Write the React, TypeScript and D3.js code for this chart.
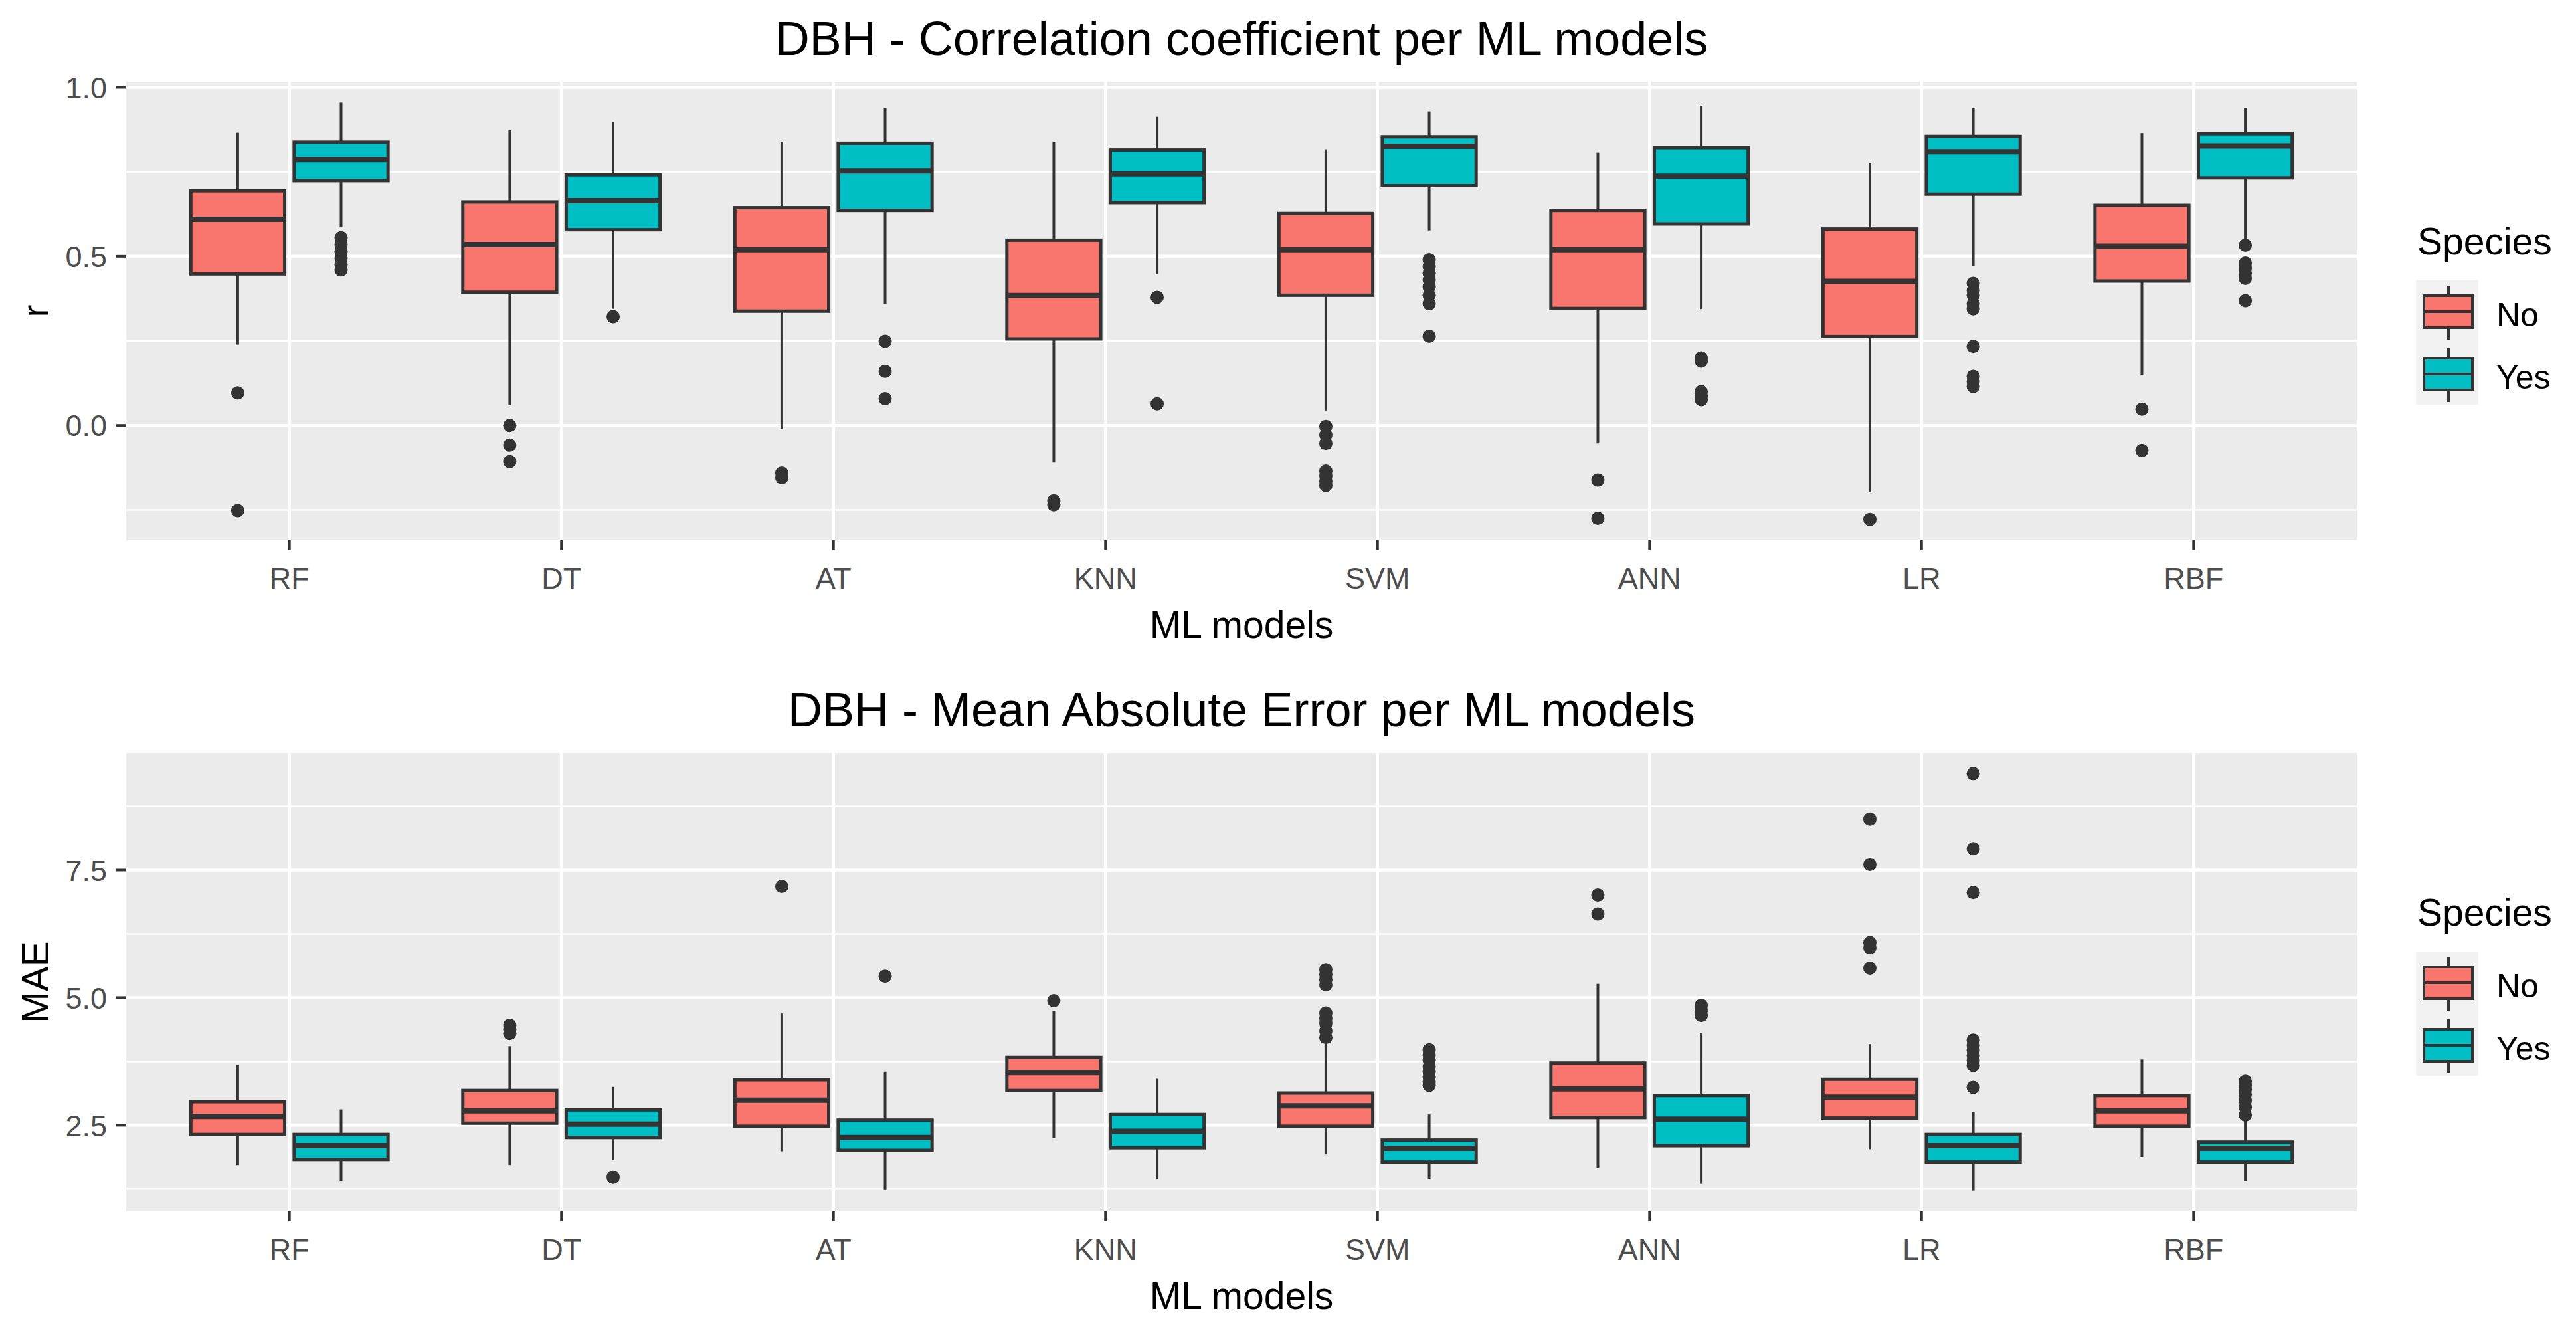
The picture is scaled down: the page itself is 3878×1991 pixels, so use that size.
import React from 'react';
import * as d3 from 'd3';

const models = ["RF", "DT", "AT", "KNN", "SVM", "ANN", "LR", "RBF"];
const species = ["No", "Yes"];
const speciesColors = ["#F8766D", "#00BFC4"];

// box stats per model: [lower whisker, Q1, median, Q3, upper whisker]
const rNoStats = [
  [0.239, 0.448, 0.610, 0.694, 0.866],
  [0.060, 0.394, 0.535, 0.661, 0.873],
  [-0.011, 0.338, 0.520, 0.644, 0.839],
  [-0.110, 0.256, 0.384, 0.548, 0.839],
  [0.044, 0.385, 0.520, 0.627, 0.817],
  [-0.053, 0.346, 0.520, 0.636, 0.807],
  [-0.198, 0.263, 0.426, 0.581, 0.776],
  [0.150, 0.427, 0.530, 0.651, 0.865],
];
const rNoOutliers = [
  [0.096, -0.252],
  [0.0, -0.058, -0.107],
  [-0.141, -0.155],
  [-0.223, -0.235],
  [-0.003, -0.028, -0.053, -0.135, -0.15, -0.165, -0.178],
  [-0.162, -0.275],
  [-0.278],
  [0.048, -0.074],
];
const rYesStats = [
  [0.586, 0.724, 0.786, 0.838, 0.955],
  [0.345, 0.579, 0.665, 0.741, 0.897],
  [0.359, 0.636, 0.753, 0.835, 0.938],
  [0.447, 0.659, 0.744, 0.815, 0.913],
  [0.577, 0.709, 0.826, 0.854, 0.929],
  [0.344, 0.596, 0.737, 0.822, 0.946],
  [0.472, 0.684, 0.810, 0.855, 0.938],
  [0.548, 0.732, 0.827, 0.863, 0.938],
];
const rYesOutliers = [
  [0.555, 0.535, 0.515, 0.495, 0.475, 0.46],
  [0.322],
  [0.249, 0.160, 0.079],
  [0.379, 0.064],
  [0.49, 0.47, 0.45, 0.43, 0.41, 0.385, 0.36, 0.264],
  [0.20, 0.19, 0.10, 0.088, 0.076],
  [0.42, 0.40, 0.385, 0.36, 0.345, 0.234, 0.145, 0.13, 0.115],
  [0.533, 0.48, 0.465, 0.45, 0.435, 0.369],
];

const maeNoStats = [
  [1.72, 2.32, 2.67, 2.96, 3.68],
  [1.72, 2.54, 2.78, 3.18, 4.05],
  [1.99, 2.48, 2.99, 3.39, 4.69],
  [2.25, 3.18, 3.53, 3.83, 4.74],
  [1.93, 2.48, 2.88, 3.13, 4.13],
  [1.66, 2.65, 3.21, 3.72, 5.27],
  [2.03, 2.64, 3.05, 3.40, 4.09],
  [1.88, 2.48, 2.78, 3.08, 3.79],
];
const maeNoOutliers = [
  [],
  [4.46, 4.38, 4.30],
  [7.18],
  [4.94],
  [5.55, 5.45, 5.35, 5.25, 4.7, 4.6, 4.5, 4.35, 4.22],
  [7.01, 6.64],
  [8.50, 7.61, 6.08, 5.98, 5.58],
  [],
];
const maeYesStats = [
  [1.40, 1.83, 2.10, 2.32, 2.81],
  [1.82, 2.26, 2.52, 2.80, 3.25],
  [1.23, 2.01, 2.26, 2.60, 3.55],
  [1.45, 2.06, 2.38, 2.71, 3.41],
  [1.45, 1.78, 2.05, 2.21, 2.71],
  [1.35, 2.10, 2.62, 3.08, 4.31],
  [1.22, 1.78, 2.10, 2.32, 2.76],
  [1.40, 1.78, 2.05, 2.17, 2.61],
];
const maeYesOutliers = [
  [],
  [1.48],
  [5.42],
  [],
  [3.98, 3.88, 3.78, 3.65, 3.55, 3.45, 3.35, 3.28],
  [4.85, 4.75, 4.65],
  [9.39, 7.92, 7.06, 4.17, 4.07, 3.97, 3.87, 3.77, 3.67, 3.24],
  [3.36, 3.28, 3.2, 3.1, 2.98, 2.85, 2.70],
];

const rTicks = [0.0, 0.5, 1.0];
const maeTicks = [2.5, 5.0, 7.5];

const W = 3878;
const H = 1991;
const FONT = "'Liberation Sans', Arial, sans-serif";
const LEFT = 190;
const RIGHT = 3548;
const DARK = "#333333";

interface PanelProps {
  top: number;
  title: string;
  yLabel: string;
  stats: number[][][];
  outliers: number[][][];
  ticks: number[];
}

const Panel: React.FC<PanelProps> = ({ top, title, yLabel, stats, outliers, ticks }) => {
  const pTop = top + 123;
  const pBot = top + 813;

  const all = [...stats.flat(2), ...outliers.flat(2)];
  const [lo, hi] = d3.extent(all) as [number, number];
  const pad = (hi - lo) * 0.05;

  const x = d3.scalePoint<string>().domain(models).range([LEFT, RIGHT]).padding(0.6);
  const y = d3.scaleLinear().domain([lo - pad, hi + pad]).range([pBot, pTop]);
  const step = x.step();
  const boxW = step * 0.345;
  const dodge = step * 0.19;

  const minor: number[] = [];
  const tStep = ticks[1] - ticks[0];
  for (let v = ticks[0] - tStep * 2.5; v < hi + pad; v += tStep) {
    if (v > lo - pad) minor.push(v);
  }

  const fmt = d3.format(".1f");
  const cx = (LEFT + RIGHT) / 2;
  const cy = (pTop + pBot) / 2;

  return (
    <g>
      <rect x={LEFT} y={pTop} width={RIGHT - LEFT} height={pBot - pTop} fill="#EBEBEB" />
      {minor.map(v => (
        <line key={"mi" + v} x1={LEFT} x2={RIGHT} y1={y(v)} y2={y(v)} stroke="#fff" strokeWidth={2.5} />
      ))}
      {ticks.map(v => (
        <line key={"ma" + v} x1={LEFT} x2={RIGHT} y1={y(v)} y2={y(v)} stroke="#fff" strokeWidth={4.5} />
      ))}
      {models.map(m => (
        <line key={"vx" + m} x1={x(m)} x2={x(m)} y1={pTop} y2={pBot} stroke="#fff" strokeWidth={4.5} />
      ))}

      {models.map((m, i) =>
        species.map((s, j) => {
          const [wl, q1, med, q3, wh] = stats[j][i];
          const c = (x(m) as number) + (j === 0 ? -dodge : dodge);
          return (
            <g key={m + s}>
              <line x1={c} x2={c} y1={y(wh)} y2={y(q3)} stroke={DARK} strokeWidth={4} />
              <line x1={c} x2={c} y1={y(q1)} y2={y(wl)} stroke={DARK} strokeWidth={4} />
              <rect x={c - boxW / 2} y={y(q3)} width={boxW} height={y(q1) - y(q3)}
                fill={speciesColors[j]} stroke={DARK} strokeWidth={5} />
              <line x1={c - boxW / 2} x2={c + boxW / 2} y1={y(med)} y2={y(med)} stroke={DARK} strokeWidth={8} />
              {outliers[j][i].map((o, k) => (
                <circle key={k} cx={c} cy={y(o)} r={10} fill={DARK} />
              ))}
            </g>
          );
        })
      )}

      {/* y axis */}
      {ticks.map(v => (
        <g key={"yt" + v}>
          <line x1={LEFT - 15} x2={LEFT} y1={y(v)} y2={y(v)} stroke={DARK} strokeWidth={4} />
          <text x={LEFT - 29} y={y(v)} dy="0.36em" textAnchor="end" fontSize={45} fill="#4D4D4D" fontFamily={FONT}>
            {fmt(v)}
          </text>
        </g>
      ))}
      {/* x axis */}
      {models.map(m => (
        <g key={"xt" + m}>
          <line x1={x(m)} x2={x(m)} y1={pBot} y2={pBot + 15} stroke={DARK} strokeWidth={4} />
          <text x={x(m)} y={top + 886} textAnchor="middle" fontSize={45} fill="#4D4D4D" fontFamily={FONT}>
            {m}
          </text>
        </g>
      ))}

      <text x={cx} y={top + 83} textAnchor="middle" fontSize={72} fill="#000" fontFamily={FONT}>{title}</text>
      <text x={cx} y={top + 960} textAnchor="middle" fontSize={57} fill="#000" fontFamily={FONT}>ML models</text>
      <text transform={`translate(73,${cy}) rotate(-90)`} textAnchor="middle" fontSize={57} fill="#000" fontFamily={FONT}>
        {yLabel}
      </text>

      {/* legend */}
      <text x={3639} y={top + 383} fontSize={57} fill="#000" fontFamily={FONT}>Species</text>
      <rect x={3637} y={top + 422} width={94} height={187} fill="#F2F2F2" />
      {species.map((s, j) => {
        const kc = top + 469 + j * 94;
        return (
          <g key={"lg" + s}>
            <line x1={3686} x2={3686} y1={kc - 39} y2={kc + 42} stroke={DARK} strokeWidth={4} />
            <rect x={3649} y={kc - 24} width={73} height={48} fill={speciesColors[j]} stroke={DARK} strokeWidth={4} />
            <line x1={3649} x2={3722} y1={kc} y2={kc} stroke={DARK} strokeWidth={4} />
            <text x={3758} y={kc + 22} fontSize={50} fill="#000" fontFamily={FONT}>{s}</text>
          </g>
        );
      })}
    </g>
  );
};

const App: React.FC = () => {
  return (
    <svg width={W} height={H} viewBox={`0 0 ${W} ${H}`}
      style={{ position: 'absolute', left: 0, top: 0, background: '#fff' }}>
      <rect x={0} y={0} width={W} height={H} fill="#fff" />
      <Panel top={0} title="DBH - Correlation coefficient per ML models" yLabel="r"
        stats={[rNoStats, rYesStats]} outliers={[rNoOutliers, rYesOutliers]} ticks={rTicks} />
      <Panel top={1010} title="DBH - Mean Absolute Error per ML models" yLabel="MAE"
        stats={[maeNoStats, maeYesStats]} outliers={[maeNoOutliers, maeYesOutliers]} ticks={maeTicks} />
    </svg>
  );
};

export default App;
